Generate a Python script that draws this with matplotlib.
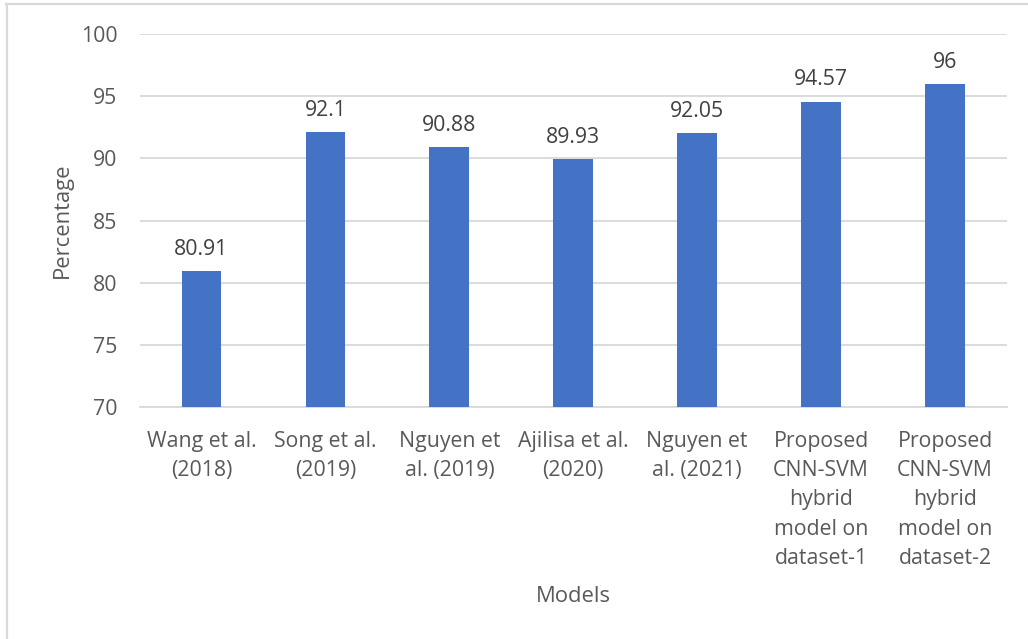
import matplotlib
matplotlib.use("Agg")
import matplotlib.pyplot as plt
from matplotlib.lines import Line2D

# Accuracy of each model (percent)
models = [
    "Wang et al.\n(2018)",
    "Song et al.\n(2019)",
    "Nguyen et\nal. (2019)",
    "Ajilisa et al.\n(2020)",
    "Nguyen et\nal. (2021)",
    "Proposed\nCNN-SVM\nhybrid\nmodel on\ndataset-1",
    "Proposed\nCNN-SVM\nhybrid\nmodel on\ndataset-2",
]
accuracy = [80.91, 92.1, 90.88, 89.93, 92.05, 94.57, 96]
value_labels = ["80.91", "92.1", "90.88", "89.93", "92.05", "94.57", "96"]
y_ticks = [70, 75, 80, 85, 90, 95, 100]

TEXT = "#595959"
BAR = "#4472c4"
GRID = "#d9d9d9"
FS = 15.3

plt.rcParams["font.family"] = ["Open Sans", "DejaVu Sans"]

W, H = 1028, 639
fig = plt.figure(figsize=(W / 100, H / 100), dpi=100)
left, right, top, bottom = 139.5, 1007, 34, 407
ax = fig.add_axes([left / W, 1 - bottom / H, (right - left) / W, (bottom - top) / H])

x = list(range(len(models)))
ax.bar(x, accuracy, width=0.32, color=BAR, zorder=3)
ax.set_xlim(-0.5, len(models) - 0.5)
ax.set_ylim(70, 100)
ax.set_yticks(y_ticks)
ax.set_yticklabels([str(t) for t in y_ticks], fontsize=FS, color=TEXT)
ax.set_xticks(x)
ax.set_xticklabels(models, fontsize=FS, color=TEXT, linespacing=1.52, va="top")
ax.tick_params(axis="both", length=0)
ax.tick_params(axis="y", pad=16)
ax.tick_params(axis="x", pad=17)

ax.grid(axis="y", color=GRID, linewidth=1.3, zorder=0)
for s in ["top", "right", "left"]:
    ax.spines[s].set_visible(False)
ax.spines["bottom"].set_color(GRID)
ax.spines["bottom"].set_linewidth(1.3)

for xi, v, lab in zip(x, accuracy, value_labels):
    ax.annotate(lab, (xi, v), xytext=(0, 8), textcoords="offset points",
                ha="center", va="bottom", fontsize=FS, color="#404040")

ax.set_ylabel("Percentage", fontsize=FS + 0.5, color=TEXT)
ax.yaxis.set_label_coords((73 - left) / (right - left), 0.5)
fig.text((left + right) / 2 / W, 1 - 596 / H, "Models", fontsize=FS + 0.5,
         color=TEXT, ha="center", va="center")

# Chart frame (top and left edges)
fig.add_artist(Line2D([6 / W, 1], [1 - 4 / H, 1 - 4 / H], color=GRID,
                      linewidth=1.6, transform=fig.transFigure))
fig.add_artist(Line2D([7 / W, 7 / W], [0, 1 - 4 / H], color=GRID,
                      linewidth=1.6, transform=fig.transFigure))

fig.savefig("out.png", dpi=100, facecolor="white")
